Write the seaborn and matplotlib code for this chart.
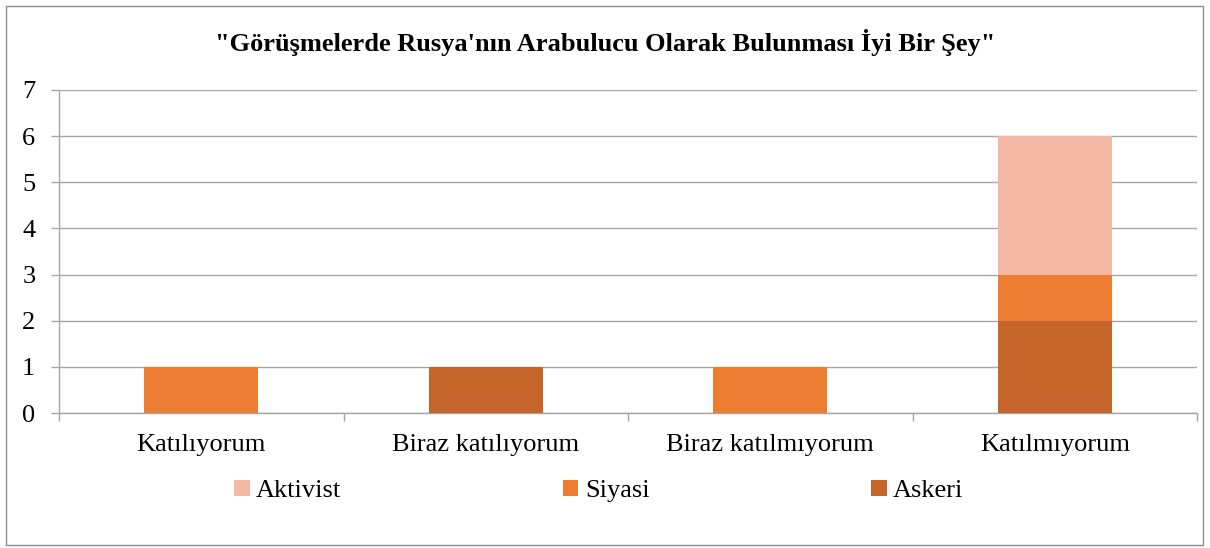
import matplotlib
matplotlib.use("Agg")
import matplotlib.pyplot as plt
import seaborn as sns
import numpy as np
import pandas as pd
from matplotlib.patches import Rectangle, Patch

categories = ["Katılıyorum", "Biraz katılıyorum", "Biraz katılmıyorum", "Katılmıyorum"]
askeri = [0, 1, 0, 2]
siyasi = [1, 0, 1, 1]
aktivist = [0, 0, 0, 3]
series_names = ["Askeri", "Siyasi", "Aktivist"]
colors = {"Askeri": "#C5652A", "Siyasi": "#ED7D31", "Aktivist": "#F4B9A4"}
title = "\"Görüşmelerde Rusya'nın Arabulucu Olarak Bulunması İyi Bir Şey\""

sns.set_theme(style="white")
plt.rcParams["font.family"] = ["Liberation Serif", "DejaVu Serif"]
plt.rcParams["text.color"] = "black"

fig = plt.figure(figsize=(12.1, 5.48), dpi=100)
ax = fig.add_axes([59/1210, 1-413/548, (1197-59)/1210, (413-90)/548])

df = pd.DataFrame({"cat": categories, "Askeri": askeri, "Siyasi": siyasi, "Aktivist": aktivist})
bottom = np.zeros(len(categories))
for name in series_names:
    vals = np.array(df[name], dtype=float)
    sns.barplot(x=categories, y=vals, bottom=bottom, color=colors[name],
                width=0.4, ax=ax, saturation=1, linewidth=0, zorder=3)
    bottom = bottom + vals

ax.set_ylim(0, 7)
ax.set_xlim(-0.5, 3.5)
ax.set_yticks(range(0, 8))
ax.yaxis.grid(True, color="#A6A6A6", linewidth=1, zorder=0)
ax.xaxis.grid(False)
for s in ["top", "right"]:
    ax.spines[s].set_visible(False)
for s in ["left", "bottom"]:
    ax.spines[s].set_color("#A6A6A6")
    ax.spines[s].set_linewidth(1)
ax.tick_params(axis="y", which="major", length=6, color="#A6A6A6", width=1,
               labelsize=19, pad=11, left=True, labelcolor="black")
ax.set_xticks(range(len(categories)))
ax.set_xticklabels(categories)
ax.tick_params(axis="x", which="major", length=0, labelsize=19, pad=15, labelcolor="black")
ax.set_xticks(np.arange(-0.5, 4.0, 1.0), minor=True)
ax.tick_params(axis="x", which="minor", length=6, color="#A6A6A6", width=1, bottom=True)
ax.set_xlabel("")
ax.set_ylabel("")

fig.text(0.5, 1-42/548, title, ha="center", va="center", fontsize=19,
         fontweight="bold", color="black")

handles = [Patch(facecolor=colors[n], edgecolor="none") for n in ["Aktivist", "Siyasi", "Askeri"]]
leg = fig.legend(handles, ["Aktivist", "Siyasi", "Askeri"], loc="center",
                 bbox_to_anchor=(0.495, 1-491/548), ncol=3, frameon=False,
                 fontsize=19, handlelength=0.58, handleheight=0.58,
                 handletextpad=0.25, columnspacing=8.4)
for t in leg.get_texts():
    t.set_color("black")

fig.patches.append(Rectangle((6/1210, 3/548), 1197/1210, 539/548, transform=fig.transFigure,
                             fill=False, edgecolor="#8C8C8C", linewidth=1))

fig.savefig("out.png", dpi=100)
